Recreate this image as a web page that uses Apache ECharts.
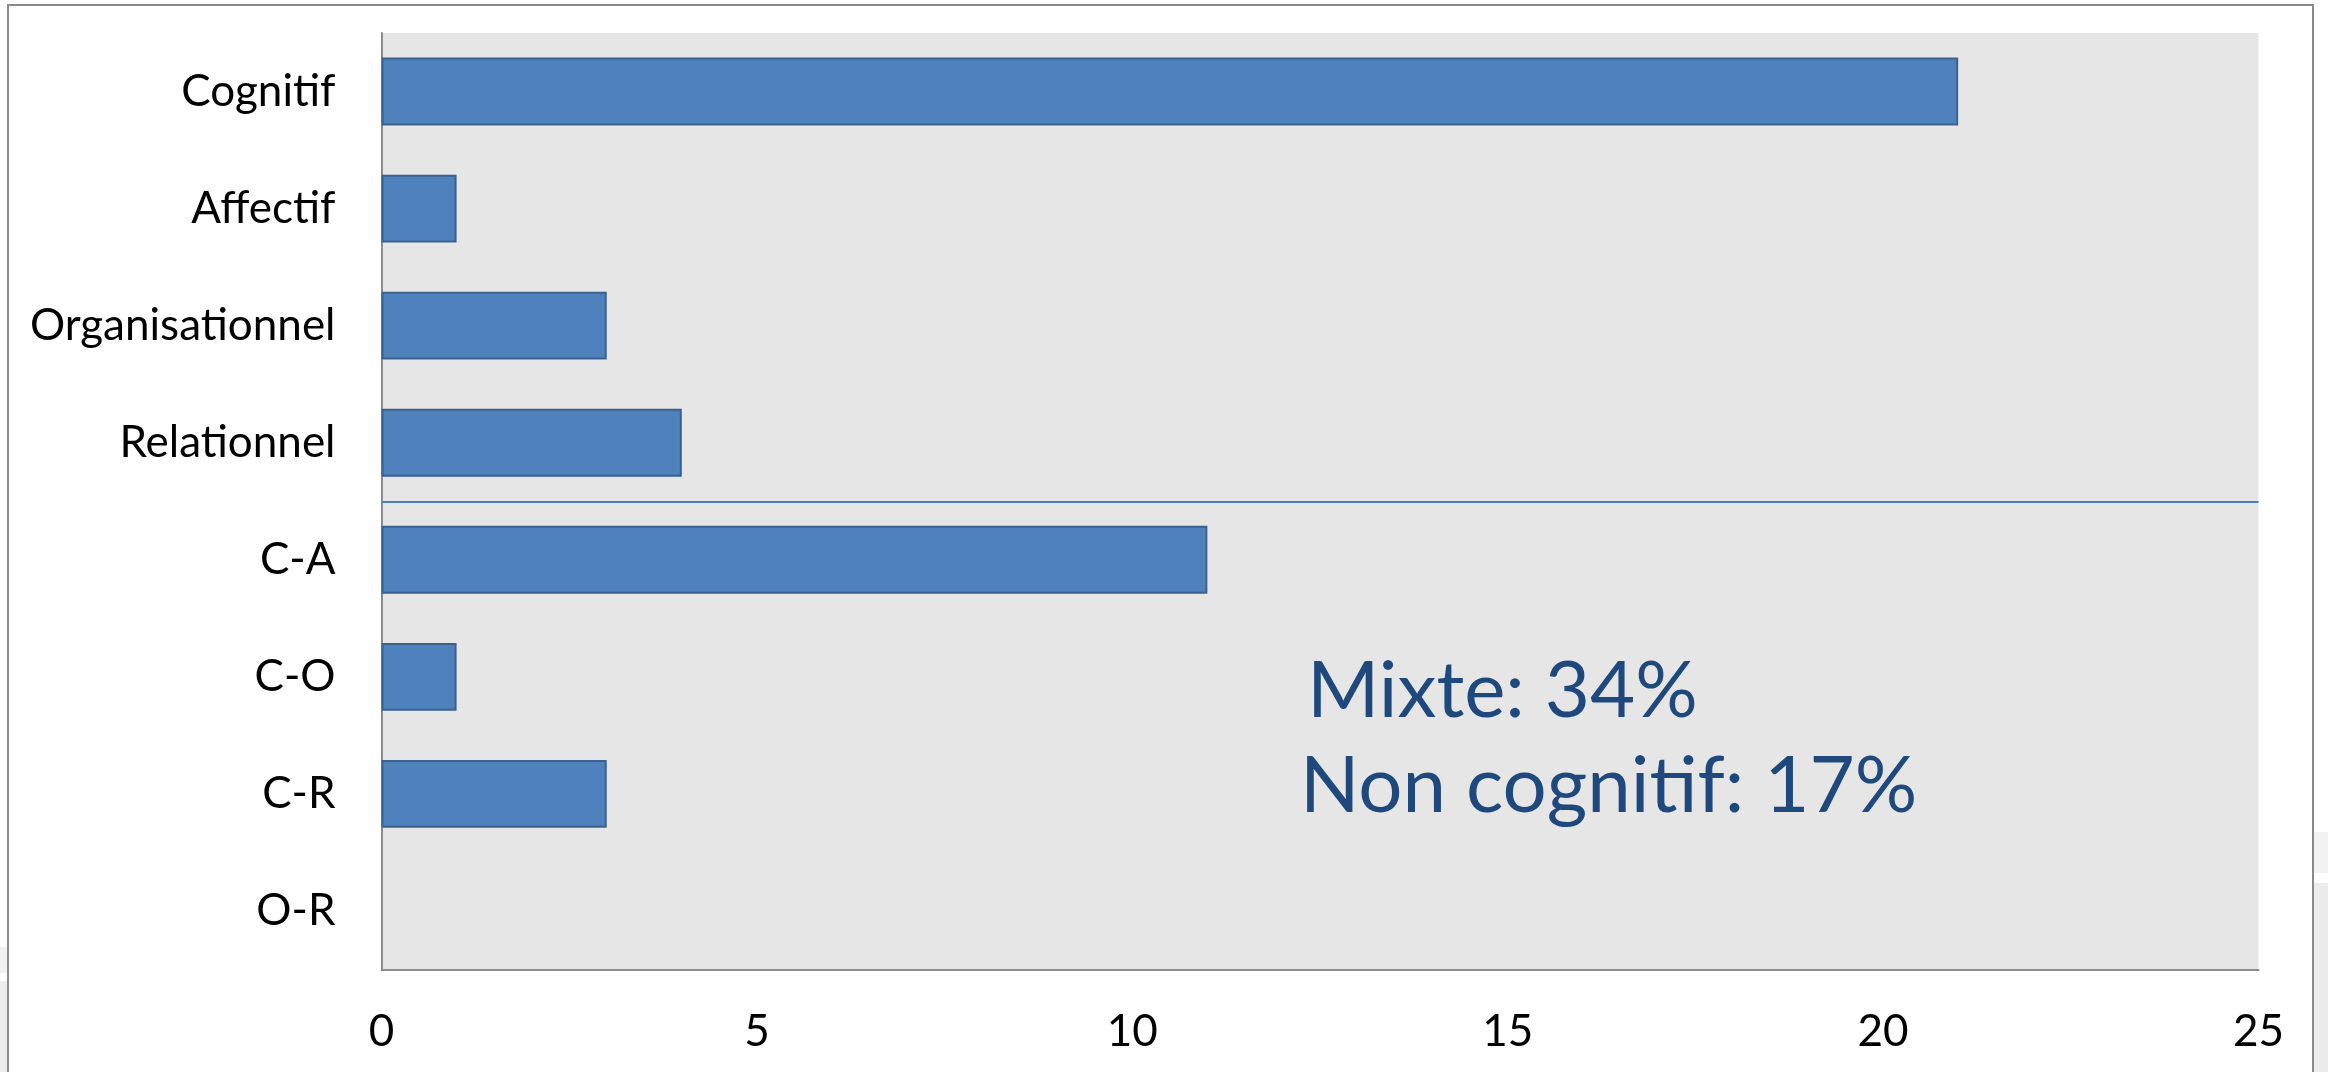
<!DOCTYPE html>
<html>
<head>
<meta charset="utf-8">
<script src="https://cdn.jsdelivr.net/npm/echarts@6/dist/echarts.min.js"></script>
<style>
  html, body { margin: 0; padding: 0; background: #ffffff; }
  #chart { width: 2328px; height: 1072px; }
</style>
</head>
<body>
<div id="chart"></div>
<script>
// ---- Data ----
const categories = ['Cognitif', 'Affectif', 'Organisationnel', 'Relationnel', 'C-A', 'C-O', 'C-R', 'O-R'];
const counts = [21, 1, 3, 4, 11, 1, 3, 0];
const xTicks = [0, 5, 10, 15, 20, 25];
const separatorAfter = 4; // boundary between single and mixed categories
const annotations = ['Mixte: 34%', 'Non cognitif: 17%'];

const FONT = 'Lato, "Open Sans", "Noto Sans", sans-serif';

const chart = echarts.init(document.getElementById('chart'), null, { renderer: 'canvas' });

const barData = counts.map(v => v === 0 ? { value: v, itemStyle: { borderWidth: 0 } } : v);

const option = {
  backgroundColor: '#ffffff',
  animation: false,
  grid: {
    left: 381.5,
    right: 69.5,
    top: 33,
    bottom: 102.5,
    show: true,
    backgroundColor: '#e6e6e6',
    borderWidth: 0
  },
  xAxis: [{
    type: 'value',
    min: xTicks[0],
    max: xTicks[xTicks.length - 1],
    interval: xTicks[1] - xTicks[0],
    axisLine: { show: true, onZero: false, lineStyle: { color: '#8c8c8c', width: 2 } },
    axisTick: { show: false },
    splitLine: { show: false },
    axisLabel: { color: '#000000', fontFamily: FONT, fontSize: 44, margin: 40 }
  }],
  yAxis: [{
    type: 'category',
    data: categories,
    inverse: true,
    axisLine: { show: true, lineStyle: { color: '#8c8c8c', width: 2 } },
    axisTick: { show: false },
    splitLine: { show: false },
    axisLabel: { color: '#000000', fontFamily: FONT, fontSize: 44, margin: 46 }
  }, {
    type: 'value',
    min: 0,
    max: categories.length,
    inverse: true,
    show: false
  }],
  series: [{
    type: 'bar',
    data: barData,
    barCategoryGap: '42%',
    itemStyle: { color: '#4f81bd', borderColor: '#3a6190', borderWidth: 2 },
    silent: true
  }, {
    type: 'line',
    yAxisIndex: 1,
    data: [],
    silent: true,
    markLine: {
      silent: true,
      symbol: ['none', 'none'],
      label: { show: false },
      lineStyle: { color: '#4a7ebb', width: 2, type: 'solid' },
      data: [{ yAxis: separatorAfter }]
    }
  }],
  graphic: [
    // outer frame
    { type: 'rect', shape: { x: 8, y: 5, width: 2305, height: 1100 }, style: { fill: 'none', stroke: '#8a8a8a', lineWidth: 2 }, z: 100 },
    // margin artefacts outside frame
    { type: 'rect', shape: { x: 2314, y: 832, width: 14, height: 41 }, style: { fill: '#f2f2f2' }, z: 1 },
    { type: 'rect', shape: { x: 2314, y: 883, width: 14, height: 189 }, style: { fill: '#ececec' }, z: 1 },
    { type: 'rect', shape: { x: 0, y: 947, width: 7, height: 26 }, style: { fill: '#f2f2f2' }, z: 1 },
    { type: 'rect', shape: { x: 0, y: 981, width: 7, height: 91 }, style: { fill: '#ececec' }, z: 1 },
    // annotation text
    { type: 'text', left: 1307, top: 653, z: 100, style: { text: annotations[0], font: '78px ' + FONT, fill: '#1f497d' } },
    { type: 'text', left: 1300, top: 748, z: 100, style: { text: annotations[1], font: '78px ' + FONT, fill: '#1f497d' } }
  ]
};

chart.setOption(option);
</script>
</body>
</html>
